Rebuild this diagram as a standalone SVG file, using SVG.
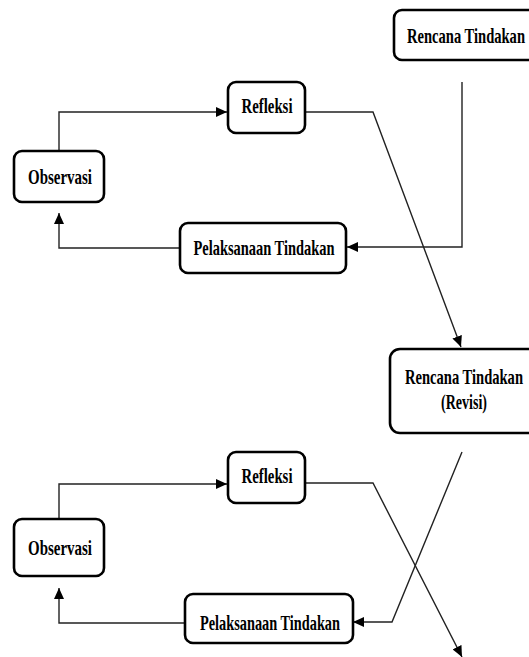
<svg xmlns="http://www.w3.org/2000/svg" width="529" height="657" viewBox="0 0 529 657">
<style>
.box{fill:#fff;stroke:#000;stroke-width:2.6}
.t{font-family:"Liberation Serif","Times New Roman",serif;font-weight:bold;font-size:22px;fill:#000;text-anchor:middle}
.c{fill:none;stroke:#222;stroke-width:1.4}
</style>
<defs>
<marker id="ah" markerUnits="userSpaceOnUse" markerWidth="12" markerHeight="10" refX="11" refY="5" orient="auto">
<path d="M0,0 L11,5 L0,10 Z" fill="#000"/>
</marker>
</defs>
<rect width="529" height="657" fill="#fff"/>
<g id="connectors">
<polyline class="c" points="59,151 59,112 227,112" marker-end="url(#ah)"/>
<polyline class="c" points="305,112 373,112 461,347" marker-end="url(#ah)"/>
<polyline class="c" points="462,82 462,247 347,247" marker-end="url(#ah)"/>
<polyline class="c" points="180,248 59,248 59,213" marker-end="url(#ah)"/>
<polyline class="c" points="59,519 59,484 227,484" marker-end="url(#ah)"/>
<polyline class="c" points="305,483 373,483 462,657" marker-end="url(#ah)"/>
<polyline class="c" points="462,452 392,622 353,622" marker-end="url(#ah)"/>
<polyline class="c" points="185,623 59,623 59,588" marker-end="url(#ah)"/>
</g>
<g id="rencana1">
<rect class="box" x="394" y="10" width="150" height="50" rx="8"/>
<text class="t" x="466" y="43" textLength="118" lengthAdjust="spacingAndGlyphs">Rencana Tindakan</text>
</g>
<g id="refleksi1">
<rect class="box" x="228" y="82" width="77" height="51" rx="8"/>
<text class="t" x="267" y="113" textLength="51" lengthAdjust="spacingAndGlyphs">Refleksi</text>
</g>
<g id="observasi1">
<rect class="box" x="14" y="151" width="90" height="51" rx="8"/>
<text class="t" x="60" y="184" textLength="64" lengthAdjust="spacingAndGlyphs">Observasi</text>
</g>
<g id="pelaksanaan1">
<rect class="box" x="180" y="223" width="166" height="50" rx="8"/>
<text class="t" x="264" y="255" textLength="141" lengthAdjust="spacingAndGlyphs">Pelaksanaan Tindakan</text>
</g>
<g id="rencana2">
<rect class="box" x="390" y="349" width="150" height="84" rx="10"/>
<text class="t" x="464" y="384" textLength="118" lengthAdjust="spacingAndGlyphs">Rencana Tindakan</text>
<text class="t" x="464" y="409" textLength="46" lengthAdjust="spacingAndGlyphs">(Revisi)</text>
</g>
<g id="refleksi2">
<rect class="box" x="228" y="452" width="77" height="51" rx="8"/>
<text class="t" x="267" y="483" textLength="51" lengthAdjust="spacingAndGlyphs">Refleksi</text>
</g>
<g id="observasi2">
<rect class="box" x="14" y="519" width="90" height="57" rx="8"/>
<text class="t" x="60" y="555" textLength="64" lengthAdjust="spacingAndGlyphs">Observasi</text>
</g>
<g id="pelaksanaan2">
<rect class="box" x="185" y="594" width="168" height="49" rx="8"/>
<text class="t" x="270" y="630" textLength="140" lengthAdjust="spacingAndGlyphs">Pelaksanaan Tindakan</text>
</g>
</svg>
